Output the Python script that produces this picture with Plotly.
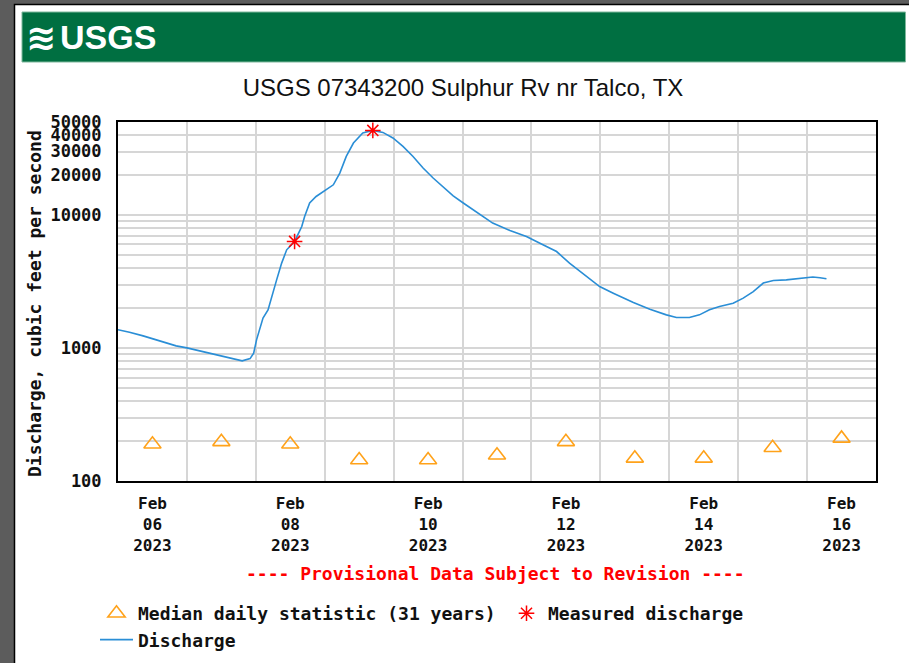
import plotly.graph_objects as go

# ---------------- data ----------------
discharge_time = [
    "2023-02-06 00:00", "2023-02-06 04:00", "2023-02-06 08:45", "2023-02-06 14:30",
    "2023-02-06 20:15", "2023-02-07 00:00", "2023-02-07 05:30", "2023-02-07 11:30",
    "2023-02-07 16:00", "2023-02-07 19:15", "2023-02-07 22:00", "2023-02-07 23:15",
    "2023-02-08 00:15", "2023-02-08 02:30", "2023-02-08 04:15", "2023-02-08 05:30",
    "2023-02-08 07:15", "2023-02-08 09:00", "2023-02-08 10:45", "2023-02-08 13:30",
    "2023-02-08 16:00", "2023-02-08 17:00", "2023-02-08 18:45", "2023-02-08 21:00",
    "2023-02-09 00:30", "2023-02-09 03:00", "2023-02-09 05:15", "2023-02-09 07:30",
    "2023-02-09 10:00", "2023-02-09 13:15", "2023-02-09 16:45", "2023-02-09 20:15",
    "2023-02-09 23:45", "2023-02-10 03:15", "2023-02-10 06:45", "2023-02-10 10:15",
    "2023-02-10 13:45", "2023-02-10 17:15", "2023-02-10 20:45", "2023-02-11 00:15",
    "2023-02-11 05:30", "2023-02-11 10:30", "2023-02-11 16:30", "2023-02-11 22:15",
    "2023-02-12 04:00", "2023-02-12 08:45", "2023-02-12 13:15", "2023-02-12 19:15",
    "2023-02-12 23:45", "2023-02-13 04:30", "2023-02-13 08:00", "2023-02-13 11:30",
    "2023-02-13 17:15", "2023-02-13 23:00", "2023-02-14 02:30", "2023-02-14 07:00",
    "2023-02-14 10:30", "2023-02-14 14:00", "2023-02-14 17:30", "2023-02-14 22:15",
    "2023-02-15 01:45", "2023-02-15 05:15", "2023-02-15 08:45", "2023-02-15 12:15",
    "2023-02-15 16:45", "2023-02-15 21:30", "2023-02-16 02:00", "2023-02-16 04:30",
    "2023-02-16 06:45",
]
discharge_cfs = [
    1370, 1315, 1233, 1137,
    1037, 1002, 940, 873,
    824, 800, 832, 914,
    1151, 1680, 1935, 2438,
    3251, 4345, 5471, 6325,
    8185, 9751, 12300, 13770,
    15490, 16860, 20650, 27540,
    34760, 41300, 43250, 41770,
    37930, 32740, 27540, 22540,
    18970, 16220, 13930, 12300,
    10320, 8690, 7640, 6885,
    5970, 5310, 4345, 3443,
    2897, 2583, 2371, 2198,
    1958, 1774, 1694, 1694,
    1774, 1935, 2051, 2172,
    2371, 2656, 3076, 3216,
    3251, 3350, 3414, 3370,
    3311,
]

median_time = [
    "2023-02-06 12:00", "2023-02-07 12:00", "2023-02-08 12:00", "2023-02-09 12:00",
    "2023-02-10 12:00", "2023-02-11 12:00", "2023-02-12 12:00", "2023-02-13 12:00",
    "2023-02-14 12:00", "2023-02-15 12:00", "2023-02-16 12:00",
]
median_cfs = [189, 197, 189, 144, 144, 156, 197, 148, 148, 178, 209]

measured_time = ["2023-02-08 13:30", "2023-02-09 16:45"]
measured_cfs = [6325, 43250]

x_tick_vals = ["2023-02-06 12:00", "2023-02-08 12:00", "2023-02-10 12:00",
               "2023-02-12 12:00", "2023-02-14 12:00", "2023-02-16 12:00"]
x_tick_text = ["Feb<br>06<br>2023", "Feb<br>08<br>2023", "Feb<br>10<br>2023",
               "Feb<br>12<br>2023", "Feb<br>14<br>2023", "Feb<br>16<br>2023"]
x_grid_vals = ["2023-02-07", "2023-02-08", "2023-02-09", "2023-02-10", "2023-02-11",
               "2023-02-12", "2023-02-13", "2023-02-14", "2023-02-15", "2023-02-16"]

y_tick_vals = [100, 1000, 10000, 20000, 30000, 40000, 50000]
y_tick_text = ["100", "1000", "10000", "20000", "30000", "40000", "50000"]
y_grid_vals = [200, 300, 400, 500, 600, 700, 800, 900,
               2000, 3000, 4000, 5000, 6000, 7000, 8000, 9000]

x_range = ["2023-02-06 00:00", "2023-02-17 00:00"]
y_range_log = [2, 4.69897]

# ---------------- layout geometry ----------------
W, H = 909, 663
ML, MR, MT, MB = 118, 33, 122, 182
PW, PH = W - ML - MR, H - MT - MB


def px_x(p):
    return (p - ML) / PW


def px_y(p):
    return (H - MB - p) / PH


MONO = "DejaVu Sans Mono"
GRID = "#d6d6d6"
INK = "#111111"

fig = go.Figure()

fig.add_trace(go.Scatter(
    x=discharge_time, y=discharge_cfs, mode="lines", name="Discharge",
    line=dict(color="#2a8ed6", width=1.6), legendrank=3,
))
fig.add_trace(go.Scatter(
    x=median_time, y=median_cfs, mode="markers",
    name="Median daily statistic (31 years)",
    marker=dict(symbol="triangle-up-open", size=15, color="#ffa21a",
                line=dict(width=1.6, color="#ffa21a")),
    legendrank=1,
))
fig.add_trace(go.Scatter(
    x=measured_time, y=measured_cfs, mode="markers", name="Measured discharge",
    marker=dict(symbol="asterisk-open", size=13, color="#ff0000",
                line=dict(width=1.5, color="#ff0000")),
    legendrank=2, cliponaxis=False,
))

fig.update_layout(
    width=W, height=H,
    margin=dict(l=ML, r=MR, t=MT, b=MB, pad=0, autoexpand=False),
    paper_bgcolor="#5c5c5c",
    plot_bgcolor="white",
    showlegend=True,
    title=dict(
        text="USGS 07343200 Sulphur Rv nr Talco, TX",
        font=dict(family="Liberation Sans Narrow, Liberation Sans, Arial", size=24, color=INK),
        x=463 / W, xref="container", xanchor="center",
        y=1 - 88 / H, yref="container", yanchor="middle",
    ),
    xaxis=dict(
        type="date", range=x_range,
        tickmode="array", tickvals=x_tick_vals, ticktext=x_tick_text,
        showgrid=False, ticks="", ticklabelstandoff=7,
        tickfont=dict(family=MONO, size=16, color=INK, weight="bold"),
        showline=True, mirror=True, linecolor="black", linewidth=2,
        zeroline=False,
        minor=dict(tickmode="array", tickvals=x_grid_vals, showgrid=True,
                   gridcolor=GRID, gridwidth=1.5, ticks=""),
    ),
    yaxis=dict(
        type="log", range=y_range_log,
        tickmode="array", tickvals=y_tick_vals, ticktext=y_tick_text,
        showgrid=True, gridcolor=GRID, gridwidth=1.5,
        ticks="", ticklabelstandoff=11,
        tickfont=dict(family=MONO, size=17, color=INK, weight="bold"),
        showline=True, mirror=True, linecolor="black", linewidth=2,
        zeroline=False,
        minor=dict(tickmode="array", tickvals=y_grid_vals, showgrid=True,
                   gridcolor=GRID, gridwidth=1.5, ticks=""),
    ),
    legend=dict(
        orientation="h", x=px_x(95), xanchor="left", y=px_y(595), yanchor="top",
        font=dict(family=MONO, size=18, color=INK, weight="bold"),
        entrywidth=362, entrywidthmode="pixels", itemwidth=33,
        bgcolor="rgba(0,0,0,0)", tracegroupgap=0,
    ),
)

# page frame, white sheet, green header band
fig.add_shape(type="rect", xref="paper", yref="paper", layer="below",
              x0=px_x(14.5), x1=px_x(W + 20), y0=px_y(4.5), y1=px_y(H + 20),
              fillcolor="white", line=dict(color="black", width=1.5))
fig.add_shape(type="rect", xref="paper", yref="paper", layer="below",
              x0=px_x(22), x1=px_x(905.5), y0=px_y(12), y1=px_y(62),
              fillcolor="#006f41", line=dict(color="#7fb89d", width=1))

# logo text
fig.add_annotation(xref="paper", yref="paper", x=px_x(24), y=px_y(37),
                   xanchor="left", yanchor="middle", showarrow=False,
                   text="≋", font=dict(family="DejaVu Sans", size=36, color="white", weight="bold"))
fig.add_annotation(xref="paper", yref="paper", x=px_x(58), y=px_y(37),
                   xanchor="left", yanchor="middle", showarrow=False,
                   text="USGS", font=dict(family="Liberation Sans Narrow, Liberation Sans", size=34,
                                          color="white", weight="bold"))

# axis title
fig.add_annotation(xref="paper", yref="paper", x=px_x(34), y=px_y(304),
                   xanchor="center", yanchor="middle", showarrow=False, textangle=-90,
                   text="Discharge, cubic feet per second",
                   font=dict(family=MONO, size=18, color=INK, weight="bold"))

# provisional note
fig.add_annotation(xref="paper", yref="paper", x=px_x(495), y=px_y(573),
                   xanchor="center", yanchor="middle", showarrow=False,
                   text="---- Provisional Data Subject to Revision ----",
                   font=dict(family=MONO, size=18, color="#ff0000", weight="bold"))

fig.write_html("out.html", config={"displayModeBar": False},
               post_script="document.body.style.margin='0';")
